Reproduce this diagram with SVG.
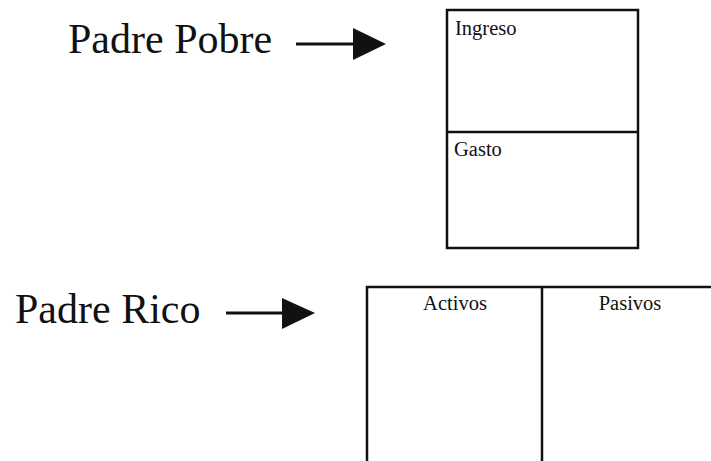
<svg xmlns="http://www.w3.org/2000/svg" width="711" height="461" viewBox="0 0 711 461">
<style>
.big{font-family:"Liberation Serif","Times New Roman",serif;font-size:42px;fill:#111}
.small{font-family:"Liberation Serif","Times New Roman",serif;font-size:20.5px;fill:#111}
.box{fill:#fff;stroke:#111;stroke-width:2.5}
.div{stroke:#111;stroke-width:2.5;fill:none}
.conn{stroke:#111;stroke-width:3;fill:none}
.head{fill:#111}
</style>
<rect width="711" height="461" fill="#fff"/>
<g id="label-pobre"><text class="big" x="68" y="53">Padre Pobre</text></g>
<g id="label-rico"><text class="big" x="15" y="323">Padre Rico</text></g>
<g id="node-pobre">
<rect class="box" x="447" y="10" width="191" height="238"/>
<line class="div" x1="447" y1="132" x2="638" y2="132"/>
<text class="small" x="455" y="35">Ingreso</text>
<text class="small" x="454" y="156">Gasto</text>
</g>
<g id="node-rico">
<rect class="box" x="367" y="287" width="352" height="190"/>
<line class="div" x1="542" y1="287" x2="542" y2="470"/>
<text class="small" x="455" y="310" text-anchor="middle">Activos</text>
<text class="small" x="630" y="310" text-anchor="middle">Pasivos</text>
</g>
<g id="connectors">
<line class="conn" x1="296" y1="44" x2="354" y2="44"/>
<polygon class="head" points="353,28 386,44 353,60"/>
<line class="conn" x1="226" y1="313" x2="283" y2="313"/>
<polygon class="head" points="282,298 315,313 282,329"/>
</g>
</svg>
